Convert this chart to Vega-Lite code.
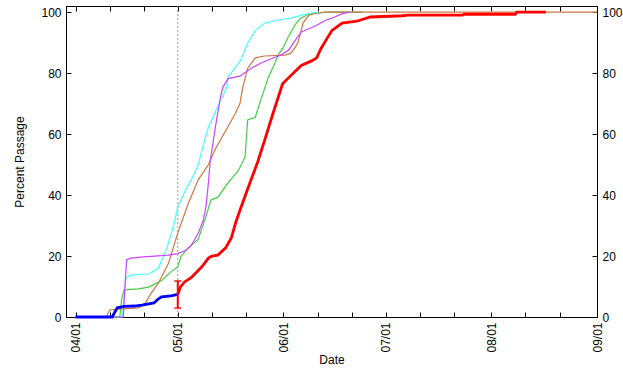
{
  "$schema": "https://vega.github.io/schema/vega-lite/v6.json",
  "width": 531,
  "height": 311,
  "autosize": {"type": "none"},
  "padding": {"left": 66, "top": 6, "right": 26, "bottom": 52},
  "background": "white",
  "config": {
    "view": {"stroke": "black", "strokeWidth": 1},
    "font": "Liberation Sans",
    "axis": {
      "grid": false,
      "domainColor": "black",
      "tickColor": "black",
      "tickSize": -5,
      "labelPadding": 10,
      "labelColor": "black",
      "labelFontSize": 12,
      "labelFont": "Liberation Sans",
      "titleFont": "Liberation Sans",
      "titleFontSize": 12,
      "titleFontWeight": "normal",
      "titleColor": "black",
      "labelFlush": false,
      "labelOverlap": false,
      "labelBound": false
    }
  },
  "datasets": {
    "ref": [{"date": "2023-05-01"}],
    "err": [{"date": "2023-05-01", "lo": 2.9, "hi": 11.8}],
    "curr": [
      {"series": "current", "date": "2023-04-01", "pct": 0},
      {"series": "current", "date": "2023-04-11T18:00:00Z", "pct": 0},
      {"series": "current", "date": "2023-04-13T06:00:00Z", "pct": 3.0},
      {"series": "current", "date": "2023-04-15T06:00:00Z", "pct": 3.5},
      {"series": "current", "date": "2023-04-18T06:00:00Z", "pct": 3.6},
      {"series": "current", "date": "2023-04-20T12:00:00Z", "pct": 3.9},
      {"series": "current", "date": "2023-04-24", "pct": 4.6},
      {"series": "current", "date": "2023-04-25T06:00:00Z", "pct": 5.9},
      {"series": "current", "date": "2023-04-26T06:00:00Z", "pct": 6.6},
      {"series": "current", "date": "2023-04-29", "pct": 6.9},
      {"series": "current", "date": "2023-05-01", "pct": 7.4},
      {"series": "projected", "date": "2023-05-01", "pct": 7.4},
      {"series": "projected", "date": "2023-05-01T18:00:00Z", "pct": 9.8},
      {"series": "projected", "date": "2023-05-03", "pct": 11.5},
      {"series": "projected", "date": "2023-05-05", "pct": 13},
      {"series": "projected", "date": "2023-05-08", "pct": 16.4},
      {"series": "projected", "date": "2023-05-10", "pct": 19.3},
      {"series": "projected", "date": "2023-05-11", "pct": 20},
      {"series": "projected", "date": "2023-05-12T18:00:00Z", "pct": 20.3},
      {"series": "projected", "date": "2023-05-15", "pct": 22.6},
      {"series": "projected", "date": "2023-05-16T18:00:00Z", "pct": 26},
      {"series": "projected", "date": "2023-05-18", "pct": 31},
      {"series": "projected", "date": "2023-05-19T06:00:00Z", "pct": 35},
      {"series": "projected", "date": "2023-05-21T12:00:00Z", "pct": 42},
      {"series": "projected", "date": "2023-05-24T12:00:00Z", "pct": 51},
      {"series": "projected", "date": "2023-05-26T12:00:00Z", "pct": 58},
      {"series": "projected", "date": "2023-05-29", "pct": 67},
      {"series": "projected", "date": "2023-05-31T18:00:00Z", "pct": 76.5},
      {"series": "projected", "date": "2023-06-03", "pct": 79},
      {"series": "projected", "date": "2023-06-06T06:00:00Z", "pct": 82.5},
      {"series": "projected", "date": "2023-06-09T06:00:00Z", "pct": 84},
      {"series": "projected", "date": "2023-06-10T18:00:00Z", "pct": 85},
      {"series": "projected", "date": "2023-06-12", "pct": 88},
      {"series": "projected", "date": "2023-06-13T12:00:00Z", "pct": 90.8},
      {"series": "projected", "date": "2023-06-15T06:00:00Z", "pct": 94},
      {"series": "projected", "date": "2023-06-18T06:00:00Z", "pct": 96.4},
      {"series": "projected", "date": "2023-06-22T12:00:00Z", "pct": 97},
      {"series": "projected", "date": "2023-06-26T12:00:00Z", "pct": 98.4},
      {"series": "projected", "date": "2023-07-06", "pct": 98.8},
      {"series": "projected", "date": "2023-07-07T12:00:00Z", "pct": 99.0},
      {"series": "projected", "date": "2023-07-23T12:00:00Z", "pct": 99.0},
      {"series": "projected", "date": "2023-07-24", "pct": 99.3},
      {"series": "projected", "date": "2023-08-08", "pct": 99.3},
      {"series": "projected", "date": "2023-08-08T12:00:00Z", "pct": 100},
      {"series": "projected", "date": "2023-08-17", "pct": 100}
    ],
    "hist": [
      {"series": "year A", "date": "2023-04-01", "pct": 0},
      {"series": "year A", "date": "2023-04-14", "pct": 0},
      {"series": "year A", "date": "2023-04-14T12:00:00Z", "pct": 5.6},
      {"series": "year A", "date": "2023-04-15T06:00:00Z", "pct": 8.9},
      {"series": "year A", "date": "2023-04-19T12:00:00Z", "pct": 9.2},
      {"series": "year A", "date": "2023-04-22T12:00:00Z", "pct": 9.8},
      {"series": "year A", "date": "2023-04-26T06:00:00Z", "pct": 12},
      {"series": "year A", "date": "2023-04-29", "pct": 14.8},
      {"series": "year A", "date": "2023-05-01", "pct": 16.4},
      {"series": "year A", "date": "2023-05-02", "pct": 20},
      {"series": "year A", "date": "2023-05-04", "pct": 22.5},
      {"series": "year A", "date": "2023-05-07", "pct": 25.5},
      {"series": "year A", "date": "2023-05-09", "pct": 32},
      {"series": "year A", "date": "2023-05-10T18:00:00Z", "pct": 38.4},
      {"series": "year A", "date": "2023-05-12T18:00:00Z", "pct": 39.3},
      {"series": "year A", "date": "2023-05-15T18:00:00Z", "pct": 44},
      {"series": "year A", "date": "2023-05-18T18:00:00Z", "pct": 48},
      {"series": "year A", "date": "2023-05-20T18:00:00Z", "pct": 52.5},
      {"series": "year A", "date": "2023-05-21T12:00:00Z", "pct": 64.6},
      {"series": "year A", "date": "2023-05-23T18:00:00Z", "pct": 65.5},
      {"series": "year A", "date": "2023-05-25", "pct": 70},
      {"series": "year A", "date": "2023-05-26T12:00:00Z", "pct": 75},
      {"series": "year A", "date": "2023-05-27T12:00:00Z", "pct": 78.5},
      {"series": "year A", "date": "2023-05-29", "pct": 82},
      {"series": "year A", "date": "2023-05-30T12:00:00Z", "pct": 86},
      {"series": "year A", "date": "2023-05-31T18:00:00Z", "pct": 88},
      {"series": "year A", "date": "2023-06-02T06:00:00Z", "pct": 91.5},
      {"series": "year A", "date": "2023-06-04T12:00:00Z", "pct": 96},
      {"series": "year A", "date": "2023-06-06", "pct": 98},
      {"series": "year A", "date": "2023-06-08T12:00:00Z", "pct": 99.3},
      {"series": "year A", "date": "2023-06-11T12:00:00Z", "pct": 99.7},
      {"series": "year A", "date": "2023-06-13", "pct": 100},
      {"series": "year A", "date": "2023-06-24T06:00:00Z", "pct": 100},

      {"series": "year B", "date": "2023-04-01", "pct": 0},
      {"series": "year B", "date": "2023-04-10", "pct": 0},
      {"series": "year B", "date": "2023-04-11", "pct": 2.3},
      {"series": "year B", "date": "2023-04-13T18:00:00Z", "pct": 2.6},
      {"series": "year B", "date": "2023-04-19T12:00:00Z", "pct": 3},
      {"series": "year B", "date": "2023-04-21T12:00:00Z", "pct": 4.6},
      {"series": "year B", "date": "2023-04-23T06:00:00Z", "pct": 7.9},
      {"series": "year B", "date": "2023-04-25T06:00:00Z", "pct": 11},
      {"series": "year B", "date": "2023-04-28T06:00:00Z", "pct": 17.5},
      {"series": "year B", "date": "2023-04-29T18:00:00Z", "pct": 23},
      {"series": "year B", "date": "2023-05-01", "pct": 27.5},
      {"series": "year B", "date": "2023-05-04", "pct": 37},
      {"series": "year B", "date": "2023-05-07", "pct": 45},
      {"series": "year B", "date": "2023-05-10", "pct": 50},
      {"series": "year B", "date": "2023-05-12", "pct": 55},
      {"series": "year B", "date": "2023-05-15", "pct": 61},
      {"series": "year B", "date": "2023-05-17T18:00:00Z", "pct": 66.5},
      {"series": "year B", "date": "2023-05-19T06:00:00Z", "pct": 70},
      {"series": "year B", "date": "2023-05-20", "pct": 75},
      {"series": "year B", "date": "2023-05-21T12:00:00Z", "pct": 81.6},
      {"series": "year B", "date": "2023-05-23T18:00:00Z", "pct": 85},
      {"series": "year B", "date": "2023-05-26T12:00:00Z", "pct": 85.6},
      {"series": "year B", "date": "2023-06-01T12:00:00Z", "pct": 85.9},
      {"series": "year B", "date": "2023-06-03T06:00:00Z", "pct": 86.6},
      {"series": "year B", "date": "2023-06-04T12:00:00Z", "pct": 88.5},
      {"series": "year B", "date": "2023-06-05T06:00:00Z", "pct": 90},
      {"series": "year B", "date": "2023-06-06", "pct": 93},
      {"series": "year B", "date": "2023-06-06T18:00:00Z", "pct": 96.4},
      {"series": "year B", "date": "2023-06-08T12:00:00Z", "pct": 99},
      {"series": "year B", "date": "2023-06-10T18:00:00Z", "pct": 99.7},
      {"series": "year B", "date": "2023-06-14", "pct": 100},
      {"series": "year B", "date": "2023-09-01", "pct": 100},

      {"series": "year C", "date": "2023-04-01", "pct": 0},
      {"series": "year C", "date": "2023-04-14T18:00:00Z", "pct": 0},
      {"series": "year C", "date": "2023-04-15T06:00:00Z", "pct": 6},
      {"series": "year C", "date": "2023-04-15T18:00:00Z", "pct": 12.5},
      {"series": "year C", "date": "2023-04-16T18:00:00Z", "pct": 13.5},
      {"series": "year C", "date": "2023-04-18T06:00:00Z", "pct": 13.9},
      {"series": "year C", "date": "2023-04-22T12:00:00Z", "pct": 14.1},
      {"series": "year C", "date": "2023-04-25T06:00:00Z", "pct": 16},
      {"series": "year C", "date": "2023-04-26T18:00:00Z", "pct": 19.7},
      {"series": "year C", "date": "2023-04-27T18:00:00Z", "pct": 22.5},
      {"series": "year C", "date": "2023-04-29", "pct": 27},
      {"series": "year C", "date": "2023-04-30", "pct": 31},
      {"series": "year C", "date": "2023-05-01", "pct": 36},
      {"series": "year C", "date": "2023-05-03T06:00:00Z", "pct": 41.6},
      {"series": "year C", "date": "2023-05-05", "pct": 45},
      {"series": "year C", "date": "2023-05-07", "pct": 50},
      {"series": "year C", "date": "2023-05-09", "pct": 58.5},
      {"series": "year C", "date": "2023-05-10", "pct": 62.3},
      {"series": "year C", "date": "2023-05-10T18:00:00Z", "pct": 64},
      {"series": "year C", "date": "2023-05-12T18:00:00Z", "pct": 69},
      {"series": "year C", "date": "2023-05-15T06:00:00Z", "pct": 75},
      {"series": "year C", "date": "2023-05-15T18:00:00Z", "pct": 78.7},
      {"series": "year C", "date": "2023-05-17T18:00:00Z", "pct": 81.6},
      {"series": "year C", "date": "2023-05-19T12:00:00Z", "pct": 84.3},
      {"series": "year C", "date": "2023-05-21T12:00:00Z", "pct": 89.8},
      {"series": "year C", "date": "2023-05-23T18:00:00Z", "pct": 94},
      {"series": "year C", "date": "2023-05-26T12:00:00Z", "pct": 96.4},
      {"series": "year C", "date": "2023-05-30T12:00:00Z", "pct": 97.4},
      {"series": "year C", "date": "2023-06-03T06:00:00Z", "pct": 98},
      {"series": "year C", "date": "2023-06-06T06:00:00Z", "pct": 99},
      {"series": "year C", "date": "2023-06-09T06:00:00Z", "pct": 99.7},
      {"series": "year C", "date": "2023-06-11", "pct": 100},

      {"series": "year D", "date": "2023-04-01", "pct": 0},
      {"series": "year D", "date": "2023-04-15", "pct": 0},
      {"series": "year D", "date": "2023-04-15T12:00:00Z", "pct": 10},
      {"series": "year D", "date": "2023-04-16", "pct": 18.8},
      {"series": "year D", "date": "2023-04-17T06:00:00Z", "pct": 19.3},
      {"series": "year D", "date": "2023-04-21", "pct": 19.7},
      {"series": "year D", "date": "2023-04-28T06:00:00Z", "pct": 20.3},
      {"series": "year D", "date": "2023-05-01", "pct": 20.8},
      {"series": "year D", "date": "2023-05-03T06:00:00Z", "pct": 21.8},
      {"series": "year D", "date": "2023-05-05", "pct": 23.6},
      {"series": "year D", "date": "2023-05-06", "pct": 25.5},
      {"series": "year D", "date": "2023-05-07", "pct": 27.5},
      {"series": "year D", "date": "2023-05-08T12:00:00Z", "pct": 31.8},
      {"series": "year D", "date": "2023-05-09T06:00:00Z", "pct": 36},
      {"series": "year D", "date": "2023-05-10", "pct": 44},
      {"series": "year D", "date": "2023-05-10T12:00:00Z", "pct": 51},
      {"series": "year D", "date": "2023-05-12", "pct": 62},
      {"series": "year D", "date": "2023-05-13T12:00:00Z", "pct": 72},
      {"series": "year D", "date": "2023-05-14T06:00:00Z", "pct": 75.4},
      {"series": "year D", "date": "2023-05-15T18:00:00Z", "pct": 78.2},
      {"series": "year D", "date": "2023-05-19T06:00:00Z", "pct": 79},
      {"series": "year D", "date": "2023-05-22T12:00:00Z", "pct": 81.6},
      {"series": "year D", "date": "2023-05-25T12:00:00Z", "pct": 83.3},
      {"series": "year D", "date": "2023-05-28T06:00:00Z", "pct": 84.6},
      {"series": "year D", "date": "2023-05-31T06:00:00Z", "pct": 85.9},
      {"series": "year D", "date": "2023-06-02T12:00:00Z", "pct": 87.5},
      {"series": "year D", "date": "2023-06-04T12:00:00Z", "pct": 90.8},
      {"series": "year D", "date": "2023-06-06T06:00:00Z", "pct": 93.5},
      {"series": "year D", "date": "2023-06-10T12:00:00Z", "pct": 95.5},
      {"series": "year D", "date": "2023-06-13T12:00:00Z", "pct": 97.4},
      {"series": "year D", "date": "2023-06-15T06:00:00Z", "pct": 98},
      {"series": "year D", "date": "2023-06-18T06:00:00Z", "pct": 99.5},
      {"series": "year D", "date": "2023-06-20T12:00:00Z", "pct": 100}
    ]
  },
  "resolve": {"axis": {"x": "independent", "y": "independent"}},
  "layer": [
    {
      "data": {"name": "ref"},
      "mark": {"type": "rule", "color": "#9a9a9a", "strokeDash": [2, 2], "strokeWidth": 1},
      "encoding": {
        "x": {"field": "date", "type": "temporal", "axis": null,
              "scale": {"type": "utc", "domain": [{"year": 2023, "month": 3, "date": 29, "hours": 5, "utc": true}, {"year": 2023, "month": 9, "date": 1, "utc": true}]}}
      }
    },
    {
      "data": {"name": "hist"},
      "mark": {"type": "line", "strokeWidth": 1.2},
      "encoding": {
        "x": {"field": "date", "type": "temporal", "title": "Date",
              "scale": {"type": "utc", "domain": [{"year": 2023, "month": 3, "date": 29, "hours": 5, "utc": true}, {"year": 2023, "month": 9, "date": 1, "utc": true}]},
              "axis": {"orient": "bottom", "labelAngle": 270, "titlePadding": 2,
                       "values": [
                         {"year": 2023, "month": 4, "date": 1, "utc": true}, {"year": 2023, "month": 4, "date": 11, "utc": true}, {"year": 2023, "month": 4, "date": 21, "utc": true},
                         {"year": 2023, "month": 5, "date": 1, "utc": true}, {"year": 2023, "month": 5, "date": 11, "utc": true}, {"year": 2023, "month": 5, "date": 21, "utc": true},
                         {"year": 2023, "month": 6, "date": 1, "utc": true}, {"year": 2023, "month": 6, "date": 11, "utc": true}, {"year": 2023, "month": 6, "date": 21, "utc": true},
                         {"year": 2023, "month": 7, "date": 1, "utc": true}, {"year": 2023, "month": 7, "date": 11, "utc": true}, {"year": 2023, "month": 7, "date": 21, "utc": true},
                         {"year": 2023, "month": 8, "date": 1, "utc": true}, {"year": 2023, "month": 8, "date": 11, "utc": true}, {"year": 2023, "month": 8, "date": 21, "utc": true},
                         {"year": 2023, "month": 9, "date": 1, "utc": true}],
                       "labelExpr": "utcdate(datum.value) == 1 ? utcFormat(datum.value, '%m/%d') : ''"}},
        "y": {"field": "pct", "type": "quantitative", "title": "Percent Passage",
              "scale": {"domain": [0, 102], "nice": false},
              "axis": {"orient": "left", "values": [0, 20, 40, 60, 80, 100], "titlePadding": 14}},
        "color": {"field": "series", "type": "nominal", "legend": null,
                  "scale": {"domain": ["year A", "year B", "year C", "year D", "current", "projected"],
                            "range": ["#44cc44", "#cc7744", "#44ffff", "#cc44ff", "#0000ff", "#ff0000"]}}
      }
    },
    {
      "data": {"name": "curr"},
      "mark": {"type": "line", "strokeWidth": 2.8},
      "encoding": {
        "x": {"field": "date", "type": "temporal",
              "scale": {"type": "utc", "domain": [{"year": 2023, "month": 3, "date": 29, "hours": 5, "utc": true}, {"year": 2023, "month": 9, "date": 1, "utc": true}]},
              "axis": {"orient": "top", "labels": false, "title": null,
                       "values": [
                         {"year": 2023, "month": 4, "date": 1, "utc": true}, {"year": 2023, "month": 4, "date": 11, "utc": true}, {"year": 2023, "month": 4, "date": 21, "utc": true},
                         {"year": 2023, "month": 5, "date": 1, "utc": true}, {"year": 2023, "month": 5, "date": 11, "utc": true}, {"year": 2023, "month": 5, "date": 21, "utc": true},
                         {"year": 2023, "month": 6, "date": 1, "utc": true}, {"year": 2023, "month": 6, "date": 11, "utc": true}, {"year": 2023, "month": 6, "date": 21, "utc": true},
                         {"year": 2023, "month": 7, "date": 1, "utc": true}, {"year": 2023, "month": 7, "date": 11, "utc": true}, {"year": 2023, "month": 7, "date": 21, "utc": true},
                         {"year": 2023, "month": 8, "date": 1, "utc": true}, {"year": 2023, "month": 8, "date": 11, "utc": true}, {"year": 2023, "month": 8, "date": 21, "utc": true},
                         {"year": 2023, "month": 9, "date": 1, "utc": true}]}},
        "y": {"field": "pct", "type": "quantitative",
              "scale": {"domain": [0, 102], "nice": false},
              "axis": {"orient": "right", "values": [0, 20, 40, 60, 80, 100], "title": null}},
        "color": {"field": "series", "type": "nominal", "legend": null,
                  "scale": {"domain": ["year A", "year B", "year C", "year D", "current", "projected"],
                            "range": ["#44cc44", "#cc7744", "#44ffff", "#cc44ff", "#0000ff", "#ff0000"]}}
      }
    },
    {
      "data": {"name": "err"},
      "mark": {"type": "rule", "color": "#ff0000", "strokeWidth": 2},
      "encoding": {
        "x": {"field": "date", "type": "temporal", "axis": null},
        "y": {"field": "lo", "type": "quantitative", "axis": null},
        "y2": {"field": "hi"}
      }
    },
    {
      "data": {"name": "err"},
      "transform": [{"fold": ["lo", "hi"], "as": ["end", "pct"]}],
      "mark": {"type": "tick", "orient": "horizontal", "color": "#ff0000", "thickness": 2, "size": 7},
      "encoding": {
        "x": {"field": "date", "type": "temporal", "axis": null},
        "y": {"field": "pct", "type": "quantitative", "axis": null}
      }
    }
  ]
}
